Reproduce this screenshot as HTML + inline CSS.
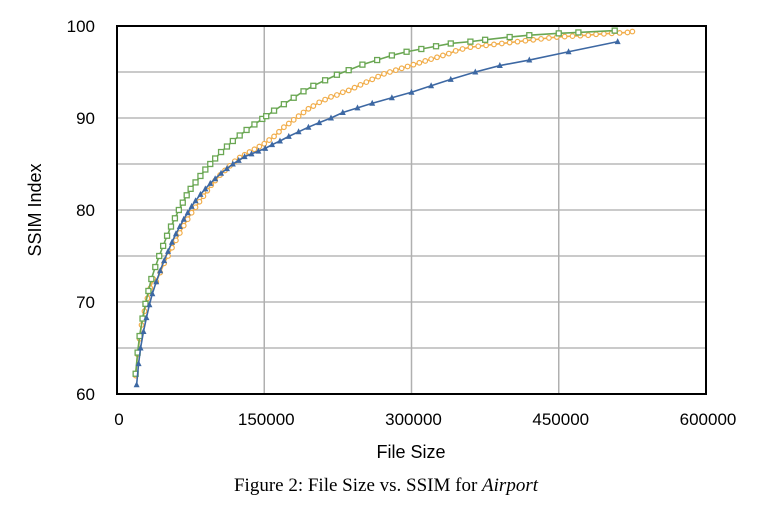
<!DOCTYPE html>
<html><head><meta charset="utf-8"><style>
body{margin:0;background:#fff;width:767px;height:523px;overflow:hidden}
svg{display:block}
</style></head><body>
<svg id="chart" width="767" height="523" xmlns="http://www.w3.org/2000/svg">
<g id="grid"></g>
<g id="series"></g>
<rect x="117" y="26" width="589" height="368" fill="none" stroke="#000" stroke-width="2"/>
<g id="ticks" font-family="Liberation Sans, sans-serif" font-size="17" fill="#000"></g>
<text x="411" y="458" text-anchor="middle" font-family="Liberation Sans, sans-serif" font-size="18">File Size</text>
<text transform="translate(41,210) rotate(-90)" text-anchor="middle" font-family="Liberation Sans, sans-serif" font-size="18">SSIM Index</text>
<text x="386" y="491" text-anchor="middle" font-family="Liberation Serif, serif" font-size="19">Figure 2: File Size vs. SSIM for <tspan font-style="italic">Airport</tspan></text>
</svg>
<script>
const xTicks=[0,150000,300000,450000,600000];
const yTicks=[60,70,80,90,100];
const yGrid=[65,70,75,80,85,90,95];
const blueX=[20000,22000,24000,27000,30000,33000,36000,40000,44000,48000,52000,56000,60000,64000,68000,72000,76000,80000,85000,90000,95000,100000,106000,112000,118000,124000,130000,137000,144000,151000,158000,166000,175000,185000,195000,206000,218000,230000,245000,260000,280000,300000,320000,340000,365000,390000,420000,460000,510000];
const blueY=[61,63.3,65,66.8,68.3,69.7,70.9,72.2,73.4,74.5,75.5,76.5,77.4,78.2,79,79.7,80.4,81,81.7,82.3,82.9,83.4,84,84.5,85,85.4,85.8,86.1,86.4,86.7,87.1,87.5,88,88.5,89,89.5,90,90.6,91.1,91.6,92.2,92.8,93.5,94.2,95,95.7,96.3,97.2,98.3];
const greenX=[19000,21000,23000,26000,29000,32000,35000,39000,43000,47000,51000,55000,59000,63000,67000,71000,75000,80000,85000,90000,95000,100000,106000,112000,118000,125000,132000,140000,148000,152000,160000,170000,180000,190000,200000,212000,224000,236000,250000,265000,280000,295000,310000,325000,340000,360000,375000,400000,420000,450000,470000,507000];
const greenY=[62.2,64.5,66.3,68.2,69.8,71.2,72.5,73.8,75,76.1,77.2,78.2,79.1,80,80.8,81.6,82.3,83,83.7,84.4,85,85.6,86.3,86.9,87.5,88.1,88.7,89.3,89.9,90.2,90.8,91.5,92.2,92.9,93.5,94.1,94.7,95.2,95.8,96.3,96.8,97.2,97.5,97.8,98.1,98.3,98.5,98.8,99,99.2,99.3,99.5];
const orangeX=[19000,21000,23000,25000,28000,31000,34000,37000,40000,44000,48000,52000,56000,60000,64000,68000,72000,76000,80000,84000,88000,92000,96000,100000,105000,110000,115000,120000,125000,130000,135000,140000,145000,150000,155000,160000,165000,170000,175000,180000,185000,190000,195000,200000,206000,212000,218000,224000,230000,236000,242000,248000,254000,260000,266000,272000,278000,284000,290000,296000,302000,308000,314000,320000,326000,332000,338000,345000,352000,360000,368000,376000,384000,392000,400000,408000,416000,424000,432000,440000,448000,456000,464000,472000,480000,488000,496000,504000,512000,520000,525000];
const orangeY=[62,64.3,66,67.5,69,70.4,71.5,72.5,72.2,73.2,74.2,75,75.9,76.7,77.5,78.3,79,79.7,80.3,80.9,81.5,82.1,82.7,83.2,83.8,84.3,84.8,85.3,85.7,86,86.3,86.6,86.9,87.2,87.6,88,88.5,89,89.4,89.8,90.2,90.6,91,91.3,91.7,92,92.3,92.5,92.8,93,93.3,93.6,93.9,94.2,94.5,94.8,95,95.2,95.4,95.6,95.8,96,96.2,96.4,96.6,96.8,97,97.3,97.5,97.7,97.8,97.9,98,98.1,98.2,98.3,98.4,98.5,98.6,98.7,98.8,98.85,98.9,98.95,99,99.1,99.15,99.2,99.25,99.3,99.4];
const L=117,R=706,T=26,B=394;
const sx=v=>L+(v-0)/(600000-0)*(R-L);
const sy=v=>B-(v-60)/(100-60)*(B-T);
const NS='http://www.w3.org/2000/svg';
function mk(tag,parent){const e=document.createElementNS(NS,tag);parent.appendChild(e);return e;}
const grid=document.getElementById('grid'),ticks=document.getElementById('ticks'),ser=document.getElementById('series');
yGrid.forEach(v=>{const l=mk('line',grid);


l.setAttribute('x1',L);l.setAttribute('x2',R);l.setAttribute('y1',sy(v));l.setAttribute('y2',sy(v));l.setAttribute('stroke','#b8b8b8');l.setAttribute('stroke-width','1.5');});
xTicks.slice(1,-1).forEach(v=>{const l=mk('line',grid);


l.setAttribute('x1',sx(v));l.setAttribute('x2',sx(v));l.setAttribute('y1',T);l.setAttribute('y2',B);l.setAttribute('stroke','#b0b0b0');l.setAttribute('stroke-width','1.5');});
xTicks.forEach(v=>{const t=mk('text',ticks);


t.setAttribute('x',sx(v)+2);t.setAttribute('y',425);t.setAttribute('text-anchor','middle');t.textContent=v;});
yTicks.forEach(v=>{const t=mk('text',ticks);


t.setAttribute('x',95);t.setAttribute('y',sy(v)+6);t.setAttribute('text-anchor','end');t.textContent=v;});
function series(xs,ys,color,shape,name){
 const g=mk('g',ser);
 
 
 const p=mk('polyline',g);
 
 
 p.setAttribute('points',xs.map((x,i)=>sx(x)+','+sy(ys[i])).join(' '));
 p.setAttribute('fill','none');p.setAttribute('stroke',color);p.setAttribute('stroke-width','1.6');
 xs.forEach((x,i)=>{const cx=sx(x),cy=sy(ys[i]);let m;
  if(shape==='tri'){m=mk('polygon',g);m.setAttribute('points',`${cx},${cy-3.5} ${cx-3},${cy+2.5} ${cx+3},${cy+2.5}`);m.setAttribute('fill',color);}
  else if(shape==='sq'){m=mk('rect',g);m.setAttribute('x',cx-2.5);m.setAttribute('y',cy-2.5);m.setAttribute('width',5);m.setAttribute('height',5);m.setAttribute('fill','#fff');m.setAttribute('stroke',color);m.setAttribute('stroke-width','1.3');}
  else {m=mk('circle',g);m.setAttribute('cx',cx);m.setAttribute('cy',cy);m.setAttribute('r',2.3);m.setAttribute('fill','#fff');m.setAttribute('stroke',color);m.setAttribute('stroke-width','1.2');}
  
  
 });
}
series(orangeX,orangeY,'#f1ad4a','circ','series-orange');
series(greenX,greenY,'#6aa753','sq','series-green');
series(blueX,blueY,'#3d68a3','tri','series-blue');
</script>
</body></html>
